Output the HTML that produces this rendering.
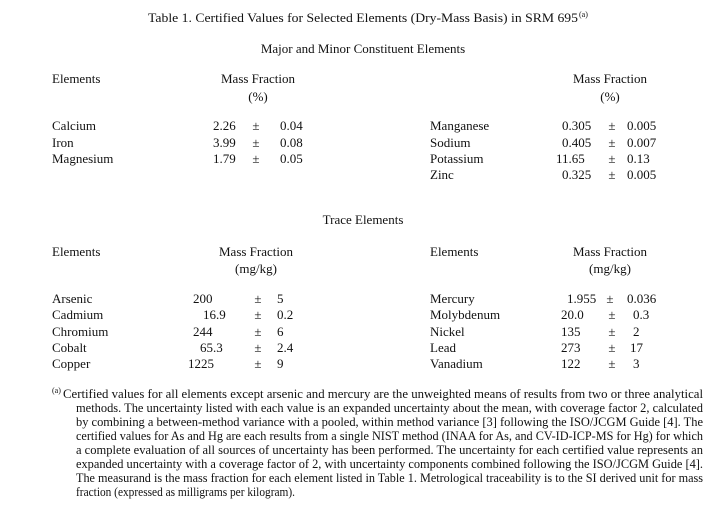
<!DOCTYPE html>
<html><head><style>
html,body{margin:0;padding:0;background:#fff;}
svg{display:block;}
text{font-family:"Liberation Serif",serif;font-size:13px;fill:#111;}
.fn{font-size:12.4px;}
</style></head><body>
<svg width="723" height="507" viewBox="0 0 723 507">
<text x="148" y="22" textLength="430" lengthAdjust="spacingAndGlyphs">Table 1.  Certified Values for Selected Elements (Dry-Mass Basis) in SRM 695</text>
<text x="579" y="17" style="font-size:8px">(a)</text>
<text x="363" y="53" text-anchor="middle">Major and Minor Constituent Elements</text>

<text x="52" y="83">Elements</text>
<text x="258" y="83" text-anchor="middle">Mass Fraction</text>
<text x="258" y="101" text-anchor="middle">(%)</text>
<text x="610" y="83" text-anchor="middle">Mass Fraction</text>
<text x="610" y="101" text-anchor="middle">(%)</text>

<text x="52" y="130">Calcium</text><text x="213" y="130">2.26</text><text x="256" y="130" text-anchor="middle">±</text><text x="280" y="130">0.04</text>
<text x="52" y="147">Iron</text><text x="213" y="147">3.99</text><text x="256" y="147" text-anchor="middle">±</text><text x="280" y="147">0.08</text>
<text x="52" y="163">Magnesium</text><text x="213" y="163">1.79</text><text x="256" y="163" text-anchor="middle">±</text><text x="280" y="163">0.05</text>

<text x="430" y="130">Manganese</text><text x="562" y="130">0.305</text><text x="612" y="130" text-anchor="middle">±</text><text x="627" y="130">0.005</text>
<text x="430" y="147">Sodium</text><text x="562" y="147">0.405</text><text x="612" y="147" text-anchor="middle">±</text><text x="627" y="147">0.007</text>
<text x="430" y="163">Potassium</text><text x="556" y="163">11.65</text><text x="612" y="163" text-anchor="middle">±</text><text x="627" y="163">0.13</text>
<text x="430" y="179">Zinc</text><text x="562" y="179">0.325</text><text x="612" y="179" text-anchor="middle">±</text><text x="627" y="179">0.005</text>

<text x="363" y="224" text-anchor="middle">Trace Elements</text>

<text x="52" y="256">Elements</text>
<text x="256" y="256" text-anchor="middle">Mass Fraction</text>
<text x="256" y="273" text-anchor="middle">(mg/kg)</text>
<text x="430" y="256">Elements</text>
<text x="610" y="256" text-anchor="middle">Mass Fraction</text>
<text x="610" y="273" text-anchor="middle">(mg/kg)</text>

<text x="52" y="303">Arsenic</text><text x="193" y="303">200</text><text x="258" y="303" text-anchor="middle">±</text><text x="277" y="303">5</text>
<text x="52" y="319">Cadmium</text><text x="203" y="319">16.9</text><text x="258" y="319" text-anchor="middle">±</text><text x="277" y="319">0.2</text>
<text x="52" y="336">Chromium</text><text x="193" y="336">244</text><text x="258" y="336" text-anchor="middle">±</text><text x="277" y="336">6</text>
<text x="52" y="352">Cobalt</text><text x="200" y="352">65.3</text><text x="258" y="352" text-anchor="middle">±</text><text x="277" y="352">2.4</text>
<text x="52" y="368">Copper</text><text x="188" y="368">1225</text><text x="258" y="368" text-anchor="middle">±</text><text x="277" y="368">9</text>

<text x="430" y="303">Mercury</text><text x="567" y="303">1.955</text><text x="610" y="303" text-anchor="middle">±</text><text x="627" y="303">0.036</text>
<text x="430" y="319">Molybdenum</text><text x="561" y="319">20.0</text><text x="612" y="319" text-anchor="middle">±</text><text x="633" y="319">0.3</text>
<text x="430" y="336">Nickel</text><text x="561" y="336">135</text><text x="612" y="336" text-anchor="middle">±</text><text x="633" y="336">2</text>
<text x="430" y="352">Lead</text><text x="561" y="352">273</text><text x="612" y="352" text-anchor="middle">±</text><text x="630" y="352">17</text>
<text x="430" y="368">Vanadium</text><text x="561" y="368">122</text><text x="612" y="368" text-anchor="middle">±</text><text x="633" y="368">3</text>

<text x="52" y="393" style="font-size:8px">(a)</text>
<text class="fn" x="63" y="398" textLength="640" lengthAdjust="spacingAndGlyphs">Certified values for all elements except arsenic and mercury are the unweighted means of results from two or three analytical</text>
<text class="fn" x="76" y="412" textLength="627" lengthAdjust="spacingAndGlyphs">methods.  The uncertainty listed with each value is an expanded uncertainty about the mean, with coverage factor 2, calculated</text>
<text class="fn" x="76" y="426" textLength="627" lengthAdjust="spacingAndGlyphs">by combining a between-method variance with a pooled, within method variance [3] following the ISO/JCGM Guide [4].  The</text>
<text class="fn" x="76" y="440" textLength="627" lengthAdjust="spacingAndGlyphs">certified values for As and Hg are each results from a single NIST method (INAA for As, and CV-ID-ICP-MS for Hg) for which</text>
<text class="fn" x="76" y="454" textLength="627" lengthAdjust="spacingAndGlyphs">a complete evaluation of all sources of uncertainty has been performed.  The uncertainty for each certified value represents an</text>
<text class="fn" x="76" y="468" textLength="627" lengthAdjust="spacingAndGlyphs">expanded uncertainty with a coverage factor of 2, with uncertainty components combined following the ISO/JCGM Guide [4].</text>
<text class="fn" x="76" y="482" textLength="627" lengthAdjust="spacingAndGlyphs">The measurand is the mass fraction for each element listed in Table 1. Metrological traceability is to the SI derived unit for mass</text>
<text class="fn" x="76" y="496" textLength="219" lengthAdjust="spacingAndGlyphs">fraction (expressed as milligrams per kilogram).</text>
</svg>
</body></html>
